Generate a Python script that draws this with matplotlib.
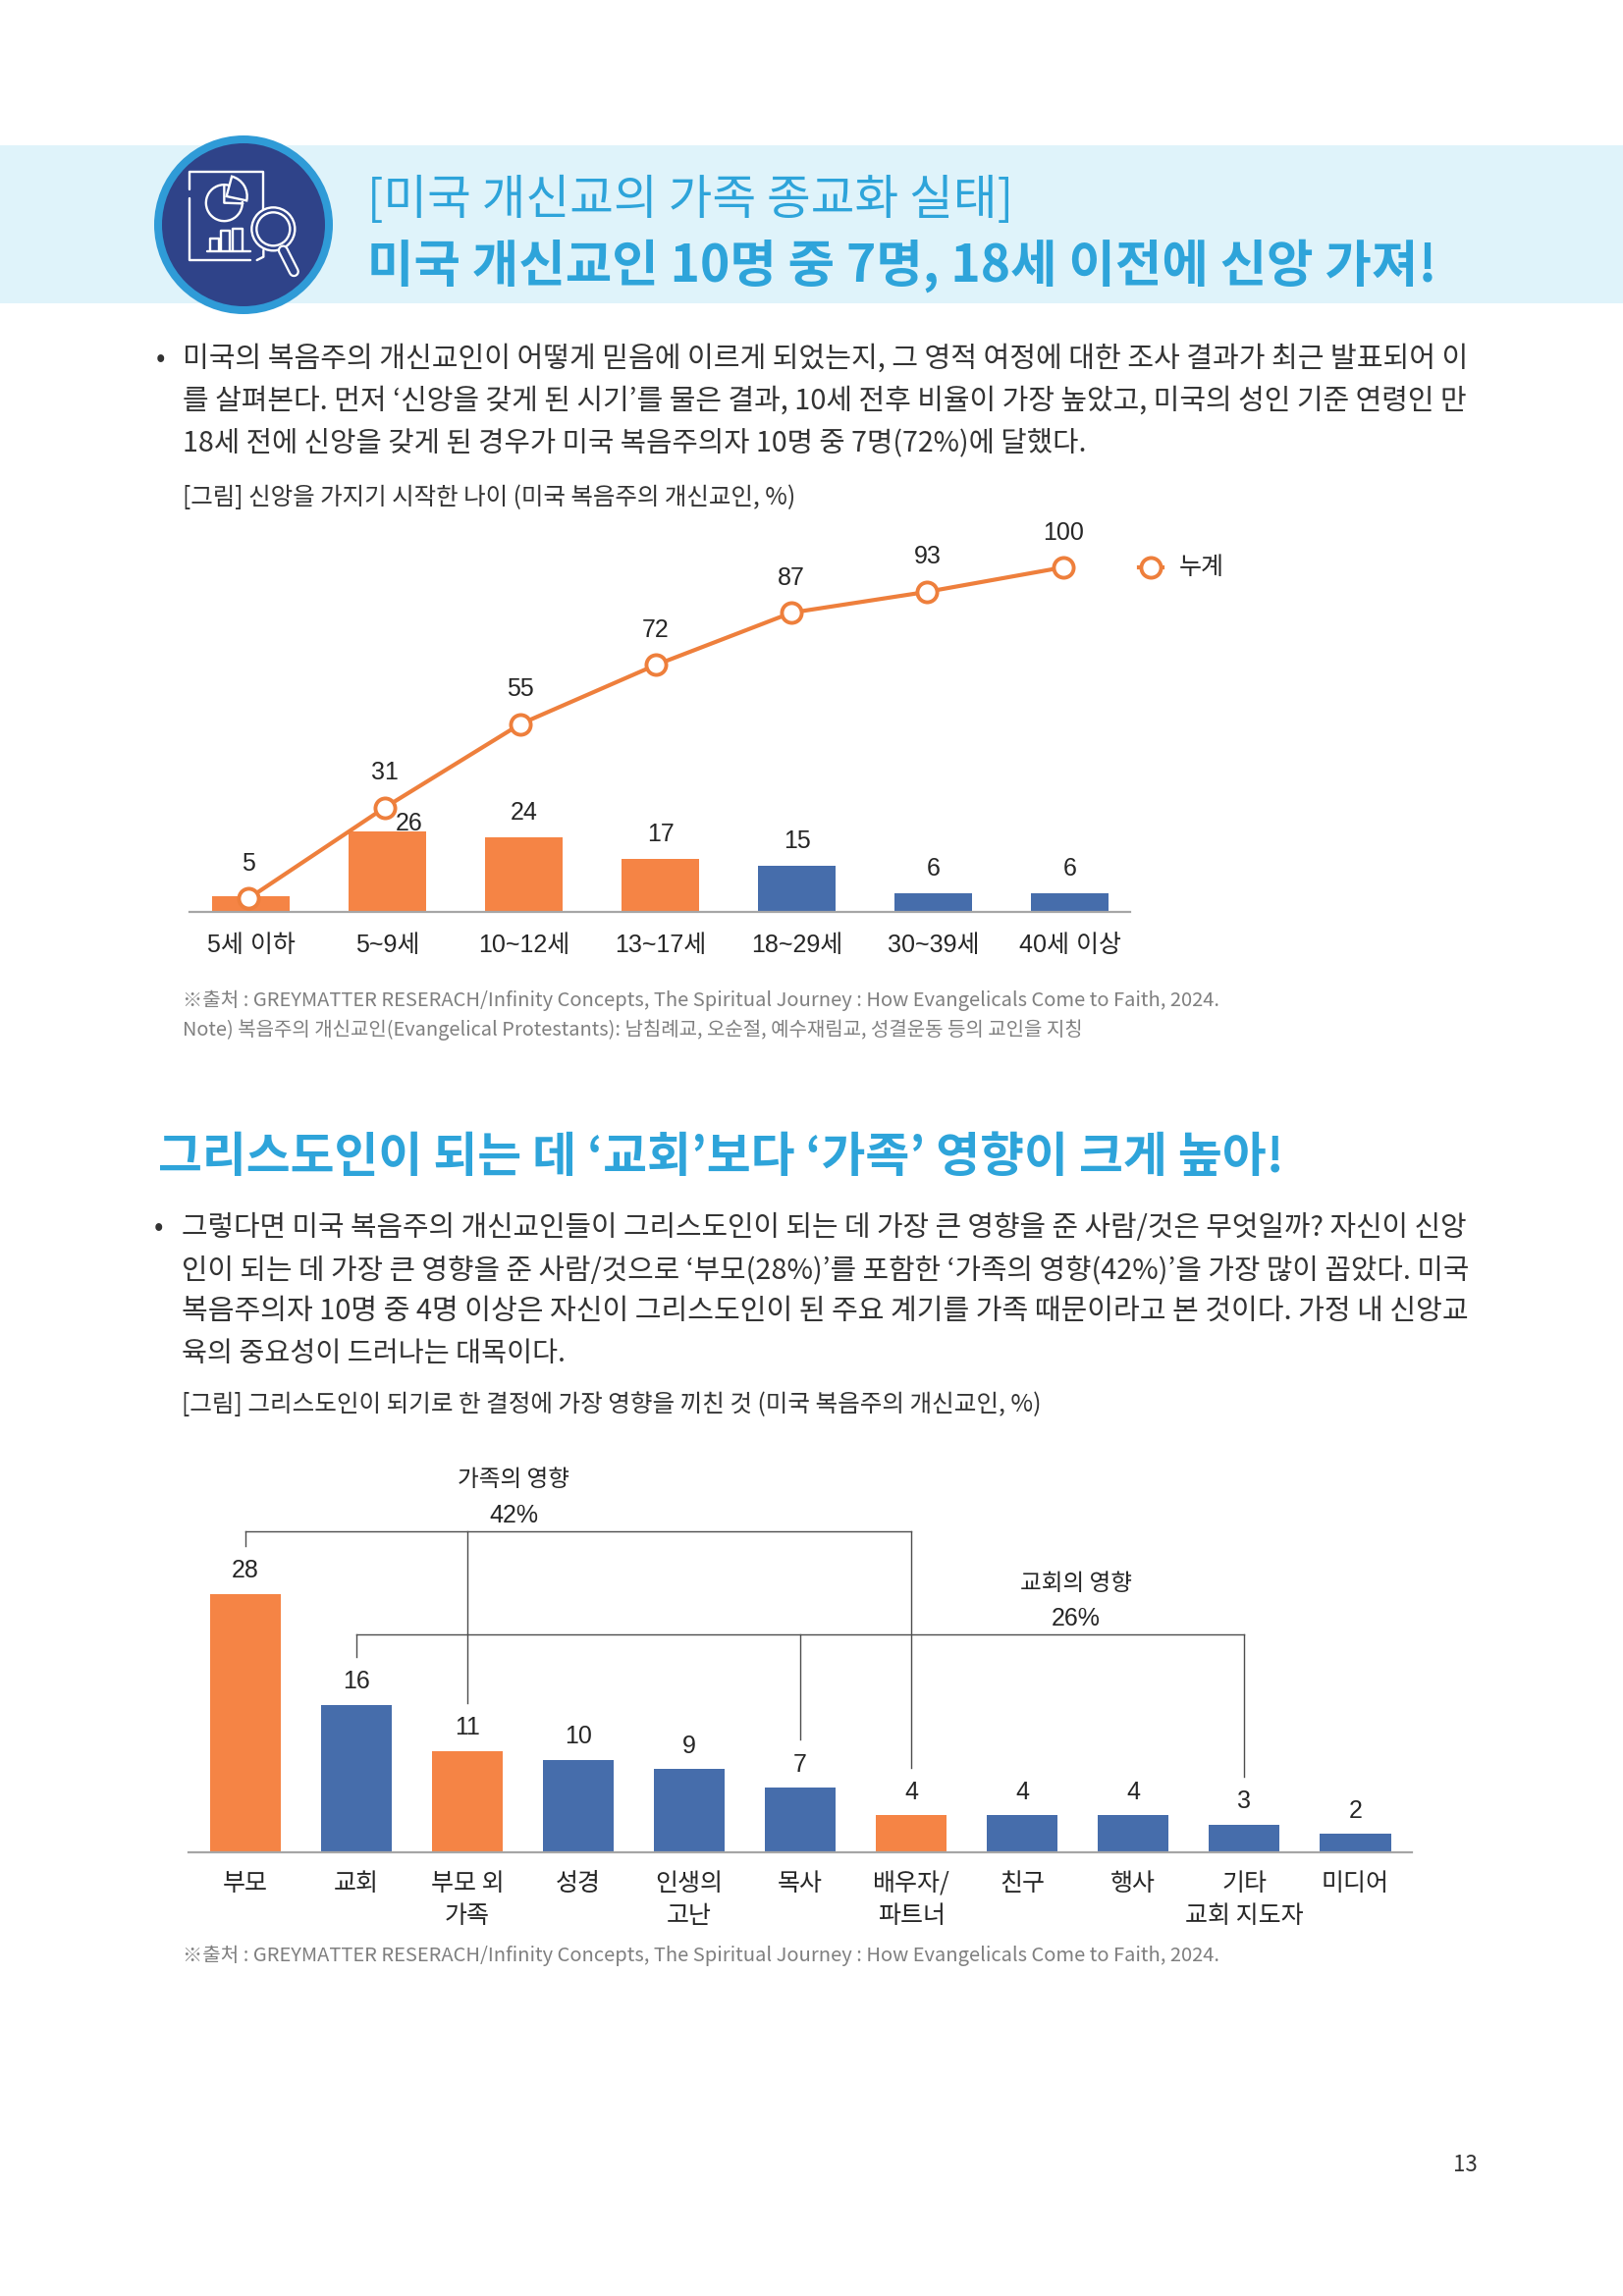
import matplotlib
matplotlib.use('Agg')
import matplotlib.pyplot as plt
from matplotlib.patches import Rectangle, Circle, Wedge, Arc

plt.rcParams['font.family'] = ['Noto Sans CJK KR', 'DejaVu Sans']

W, H = 1653, 2339
ORANGE = '#f58445'
BLUE = '#466dab'
LINE = '#ee7f3c'
CYAN = '#2ea4da'
TEXT = '#333333'
GREY = '#7f7f7f'
NUMFONT = ['Liberation Sans', 'Noto Sans CJK KR']

# chart 1
ages = ['5세 이하', '5~9세', '10~12세', '13~17세', '18~29세', '30~39세', '40세 이상']
age_share = [5, 26, 24, 17, 15, 6, 6]
age_cum = [5, 31, 55, 72, 87, 93, 100]
age_colors = [ORANGE, ORANGE, ORANGE, ORANGE, BLUE, BLUE, BLUE]

# chart 2
infl = ['부모', '교회', '부모 외\n가족', '성경', '인생의\n고난', '목사', '배우자/\n파트너',
        '친구', '행사', '기타\n교회 지도자', '미디어']
infl_vals = [28, 16, 11, 10, 9, 7, 4, 4, 4, 3, 2]
infl_colors = [ORANGE, BLUE, ORANGE, BLUE, BLUE, BLUE, ORANGE, BLUE, BLUE, BLUE, BLUE]
family_idx = [0, 2, 6]
church_idx = [1, 5, 9]

# page text: string, x0, x1, y in pixels
body1 = [
    ('미국의 복음주의 개신교인이 어떻게 믿음에 이르게 되었는지, 그 영적 여정에 대한 조사 결과가 최근 발표되어 이', 186, 1497, 366),
    ('를 살펴본다. 먼저 ‘신앙을 갖게 된 시기’를 물은 결과, 10세 전후 비율이 가장 높았고, 미국의 성인 기준 연령인 만', 186, 1497, 409),
    ('18세 전에 신앙을 갖게 된 경우가 미국 복음주의자 10명 중 7명(72%)에 달했다.', 186, 1107, 451),
]
body2 = [
    ('그렇다면 미국 복음주의 개신교인들이 그리스도인이 되는 데 가장 큰 영향을 준 사람/것은 무엇일까? 자신이 신앙', 185, 1497, 1251),
    ('인이 되는 데 가장 큰 영향을 준 사람/것으로 ‘부모(28%)’를 포함한 ‘가족의 영향(42%)’을 가장 많이 꼽았다. 미국', 185, 1497, 1294),
    ('복음주의자 10명 중 4명 이상은 자신이 그리스도인이 된 주요 계기를 가족 때문이라고 본 것이다. 가정 내 신앙교', 185, 1497, 1336),
    ('육의 중요성이 드러나는 대목이다.', 185, 576, 1379),
]
source = '※출처 : GREYMATTER RESERACH/Infinity Concepts, The Spiritual Journey : How Evangelicals Come to Faith, 2024.'
note = 'Note) 복음주의 개신교인(Evangelical Protestants): 남침례교, 오순절, 예수재림교, 성결운동 등의 교인을 지칭'

fig = plt.figure(figsize=(W / 100, H / 100), dpi=100, facecolor='white')
page = fig.add_axes([0, 0, 1, 1], zorder=0)
page.set_xlim(0, W)
page.set_ylim(H, 0)
page.axis('off')
renderer = fig.canvas.get_renderer()


def fit(s, x0, x1, y, size, color=TEXT, **kw):
    # scale the font so the line spans x0..x1 like the justified original
    t = page.text(x0, y, s, fontsize=size, color=color, ha='left', va='center', **kw)
    t.set_fontsize(size * (x1 - x0) / t.get_window_extent(renderer).width)
    return t


def chart_axes(x0, x1, y_top, y_bot):
    ax = fig.add_axes([x0 / W, 1 - y_bot / H, (x1 - x0) / W, (y_bot - y_top) / H], zorder=2)
    ax.patch.set_visible(False)
    for s in ['top', 'left', 'right']:
        ax.spines[s].set_visible(False)
    ax.spines['bottom'].set_color('#a6a6a6')
    ax.spines['bottom'].set_linewidth(1.6)
    ax.set_yticks([])
    return ax


# header band and badge
page.add_patch(Rectangle((0, 148), W, 161, fc='#dff3fa', ec='none'))
page.add_patch(Circle((248, 229), 91, fc='#2f9bd7', ec='none', zorder=2))
page.add_patch(Circle((248, 229), 83, fc='#2f4389', ec='none', zorder=2))


# badge icon, drawn in the badge's own coordinates
def ix(x):
    return 140 + x / 3


def iy(y):
    return 130 + y / 3


def icon_line(xs, ys, lw=1.7):
    page.plot([ix(x) for x in xs], [iy(y) for y in ys], color='white', lw=lw, zorder=3,
              solid_capstyle='round', solid_joinstyle='round')


icon_line([160, 160, 385, 385], [190, 135, 135, 250])
icon_line([160, 160, 345], [215, 405, 405])
icon_line([385, 385, 365], [375, 395, 405])
icon_line([212, 345], [378, 378])
for bx, bw, by in [(222, 26, 340), (255, 27, 315), (292, 28, 310)]:
    icon_line([bx, bx, bx + bw, bx + bw], [375, by, by, 375])
page.add_patch(Arc((ix(265), iy(230)), 37, 37, theta1=-5, theta2=285, ec='white', lw=1.7, zorder=3))
icon_line([265, 265, 322], [175, 230, 232])
page.add_patch(Wedge((ix(272), iy(210)), 21, -75, 12, fc='none', ec='white', lw=1.7, zorder=3))
page.add_patch(Circle((ix(415), iy(310)), 22, fc='none', ec='white', lw=1.7, zorder=3))
page.add_patch(Circle((ix(415), iy(310)), 17, fc='none', ec='white', lw=1.7, zorder=3))
icon_line([445, 478], [375, 440], lw=8)
page.plot([ix(445), ix(478)], [iy(375), iy(440)], color='#2f4389', lw=4.8, zorder=3,
          solid_capstyle='round')

fit('[미국 개신교의 가족 종교화 실태]', 374, 1032, 204, 36, color=CYAN)
fit('미국 개신교인 10명 중 7명, 18세 이전에 신앙 가져!', 374, 1462, 271, 38, color=CYAN, fontweight='bold')

page.text(163, 366, '•', fontsize=20, color=TEXT, ha='center', va='center')
for s, x0, x1, y in body1:
    fit(s, x0, x1, y, 21)
fit('[그림] 신앙을 가지기 시작한 나이 (미국 복음주의 개신교인, %)', 186, 810, 507, 19)
fit(source, 186, 1243, 1019, 16, color=GREY)
fit(note, 186, 1105, 1049, 16, color=GREY)

fit('그리스도인이 되는 데 ‘교회’보다 ‘가족’ 영향이 크게 높아!', 161, 1307, 1179, 38, color=CYAN, fontweight='bold')
page.text(161, 1251, '•', fontsize=20, color=TEXT, ha='center', va='center')
for s, x0, x1, y in body2:
    fit(s, x0, x1, y, 21)
fit('[그림] 그리스도인이 되기로 한 결정에 가장 영향을 끼친 것 (미국 복음주의 개신교인, %)', 185, 1059, 1431, 19)
fit(source, 186, 1243, 1992, 16, color=GREY)
page.text(1492, 2205, '13', fontsize=16, color=TEXT, ha='center', va='center')

# chart 1: bars on one scale, cumulative line on its own
ax1 = chart_axes(192.5, 1151, 530, 929)
ax1.bar(range(len(ages)), age_share, width=0.57, color=age_colors)
ax1.set_xlim(-0.453, 6.44)
ax1.set_ylim(0, 399 / 3.15)
ax1.set_xticks(range(len(ages)))
ax1.set_xticklabels(ages, fontsize=18, color='#262626', family=NUMFONT)
ax1.tick_params(axis='x', length=0, pad=16)
for i, v in enumerate(age_share):
    if i == 0:
        continue  # shares the label of the line's first point
    dx, dy = (16, 6) if i == 1 else (0, 18)
    ax1.annotate(str(v), (i, v), xytext=(dx, dy), textcoords='offset points', ha='center',
                 va='center', fontsize=18, color='#262626', family=NUMFONT)

ax1b = fig.add_axes(ax1.get_position(), zorder=3)
ax1b.axis('off')
ax1b.set_xlim(-0.44, 6.495)
ax1b.set_ylim(1.1, 398 / 3.54 + 1.1)
ax1b.plot(range(len(ages)), age_cum, color=LINE, lw=3, marker='o', ms=14.5, mfc='white',
          mec=LINE, mew=2.8)
for i, v in enumerate(age_cum):
    ax1b.annotate(str(v), (i, v), xytext=(0, 25.5), textcoords='offset points', ha='center',
                  va='center', fontsize=18, color='#262626', family=NUMFONT)

page.plot([1160, 1184], [578, 578], color=LINE, lw=3, zorder=2)
page.plot([1172], [578], marker='o', ms=14.5, mfc='white', mec=LINE, mew=2.8, zorder=3)
page.text(1201, 578, '누계', fontsize=18, color='#262626', ha='left', va='center')

# chart 2
ax2 = chart_axes(192, 1438, 1500, 1887)
ax2.bar(range(len(infl)), infl_vals, width=0.64, color=infl_colors)
ax2.set_xlim(-0.513, 10.51)
ax2.set_ylim(0, 387 / 9.4)
ax2.set_xticks(range(len(infl)))
ax2.set_xticklabels(infl, fontsize=18, color='#262626', linespacing=1.33)
ax2.tick_params(axis='x', length=0, pad=14)
for i, v in enumerate(infl_vals):
    ax2.annotate(str(v), (i, v), xytext=(0, 17), textcoords='offset points', ha='center',
                 va='center', fontsize=18, color='#262626', family=NUMFONT)

# brackets grouping the bars
for idx, level in [(family_idx, 34.8), (church_idx, 23.6)]:
    ax2.plot([idx[0], idx[-1]], [level, level], color='#4d4d4d', lw=1.0)
    for i in idx:
        ax2.plot([i, i], [level, infl_vals[i] + 5.2], color='#4d4d4d', lw=1.0)

page.text(523, 1508, '가족의 영향', fontsize=17, color='#262626', ha='center', va='center')
page.text(523, 1544, '42%', fontsize=18, color='#262626', ha='center', va='center', family=NUMFONT)
page.text(1096, 1613, '교회의 영향', fontsize=17, color='#262626', ha='center', va='center')
page.text(1096, 1649, '26%', fontsize=18, color='#262626', ha='center', va='center', family=NUMFONT)

fig.savefig('out.png', dpi=100)
